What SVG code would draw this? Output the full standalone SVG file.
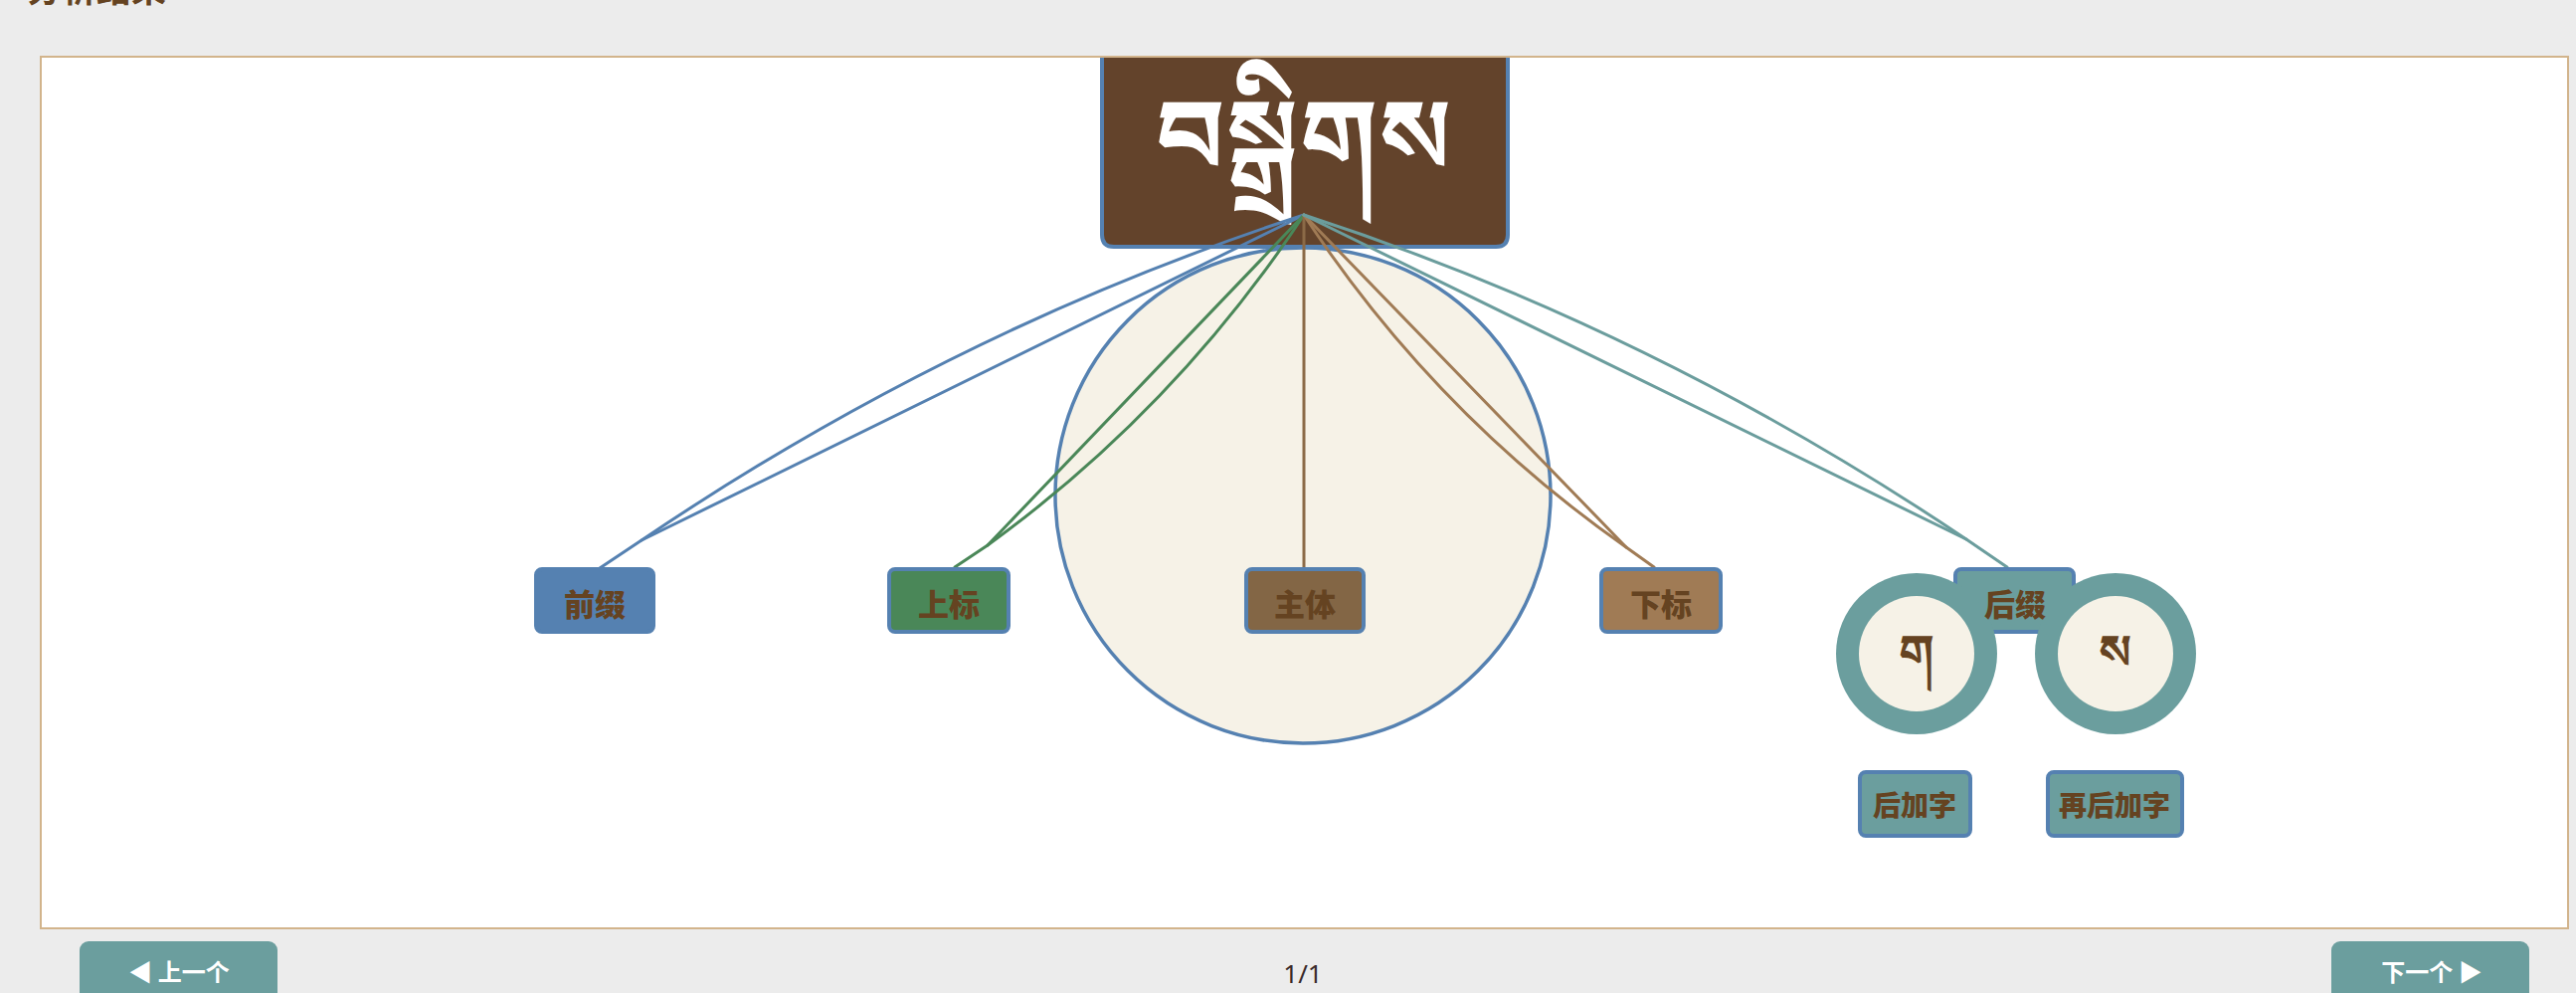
<svg xmlns="http://www.w3.org/2000/svg" width="2590" height="998" viewBox="0 0 2590 998">
<style>
.lbl{font-family:"Noto Sans CJK SC","Noto Sans",sans-serif;font-weight:900;fill:#654321;text-anchor:middle;dominant-baseline:central}
.box{stroke:#5581b1;stroke-width:4}
.con{fill:none;stroke-width:3;stroke-linejoin:round;stroke-linecap:round}
.btn{fill:#6b9e9e}
.btxt{font-family:"Noto Sans CJK SC","Noto Sans",sans-serif;font-weight:bold;font-size:24px;fill:#ffffff;text-anchor:middle}
.tib{font-family:"Noto Sans Tibetan","Noto Serif Tibetan","Jomolhari","Microsoft Himalaya","DejaVu Sans",sans-serif;text-anchor:middle;font-weight:bold}
</style>
<rect x="0" y="0" width="2590" height="998" fill="#ececec"/>
<text x="27" y="2" font-family="'Noto Sans CJK SC','Noto Sans',sans-serif" font-weight="bold" font-size="35" fill="#654321">分析结果</text>
<rect x="41" y="57" width="2541" height="876" fill="#ffffff" stroke="#d2b48c" stroke-width="2"/>

<g id="main-circle">
<circle cx="1310" cy="498" r="249" fill="#f6f2e7" stroke="#5581b1" stroke-width="3.5"/>
</g>

<g id="root">
<path d="M1108,58 V236 Q1108,248 1120,248 H1504 Q1516,248 1516,236 V58 Z" fill="#63432b"/>
<path d="M1108,58 V236 Q1108,248 1120,248 H1504 Q1516,248 1516,236 V58" fill="none" stroke="#5581b1" stroke-width="4"/>
<text class="tib" x="1311" y="174" font-size="105" fill="#ffffff">བསྒྲིགས</text>
</g>

<g id="connectors">
<path class="con" stroke="#5581b1" d="M1311,216 Q960,330 645,543 L603,571"/>
<path class="con" stroke="#5581b1" d="M1311,216 L645,543"/>
<path class="con" stroke="#4a8758" d="M1311,216 L993,548 L960,570"/>
<path class="con" stroke="#4a8758" d="M1311,216 Q1182,411 993,548"/>
<path class="con" stroke="#8b6a47" d="M1311,216 L1311,570"/>
<path class="con" stroke="#a07b55" d="M1311,216 L1635,550 L1663,570"/>
<path class="con" stroke="#a07b55" d="M1311,216 Q1441,414 1635,550"/>
<path class="con" stroke="#6b9d9d" d="M1311,216 L1977,542 L2018,570"/>
<path class="con" stroke="#6b9d9d" d="M1311,216 Q1662,330 1977,542"/>
</g>

<g id="prefix">
<rect class="box" x="539" y="572" width="118" height="63" rx="6" fill="#5581b1"/>
<text class="lbl" x="598" y="605" font-size="31">前缀</text>
</g>
<g id="superscript">
<rect class="box" x="894" y="572" width="120" height="63" rx="6" fill="#4a8758"/>
<text class="lbl" x="954" y="605" font-size="31">上标</text>
</g>
<g id="root-letter">
<rect class="box" x="1253" y="572" width="118" height="63" rx="6" fill="#836645"/>
<text class="lbl" x="1312" y="605" font-size="31">主体</text>
</g>
<g id="subscript">
<rect class="box" x="1610" y="572" width="120" height="63" rx="6" fill="#a07b55"/>
<text class="lbl" x="1670" y="605" font-size="31">下标</text>
</g>
<g id="suffix">
<rect class="box" x="1966" y="572" width="119" height="63" rx="6" fill="#6b9e9e"/>
<circle cx="1927" cy="657" r="81" fill="#6b9e9e"/>
<circle cx="1927" cy="657" r="58" fill="#f6f2e7"/>
<circle cx="2127" cy="657" r="81" fill="#6b9e9e"/>
<circle cx="2127" cy="657" r="58" fill="#f6f2e7"/>
<text class="lbl" x="2026" y="605" font-size="31">后缀</text>
<text class="tib" x="1927" y="672" font-size="48" fill="#654321">ག</text>
<text class="tib" x="2127" y="672" font-size="48" fill="#654321">ས</text>
</g>
<g id="post-suffix">
<rect class="box" x="1870" y="776" width="111" height="64" rx="6" fill="#6b9e9e"/>
<text class="lbl" x="1925" y="808" font-size="28">后加字</text>
</g>
<g id="post-post-suffix">
<rect class="box" x="2059" y="776" width="135" height="64" rx="6" fill="#6b9e9e"/>
<text class="lbl" x="2126" y="808" font-size="28">再后加字</text>
</g>

<g id="nav">
<rect class="btn" x="80" y="946" width="199" height="70" rx="9"/>
<text class="btxt" x="180" y="986">◀ 上一个</text>
<text x="1310" y="988" font-family="'Noto Sans','Liberation Sans',sans-serif" font-size="26" fill="#3a2a2a" text-anchor="middle">1/1</text>
<rect class="btn" x="2344" y="946" width="199" height="70" rx="9"/>
<text class="btxt" x="2445" y="986">下一个 ▶</text>
</g>
</svg>
